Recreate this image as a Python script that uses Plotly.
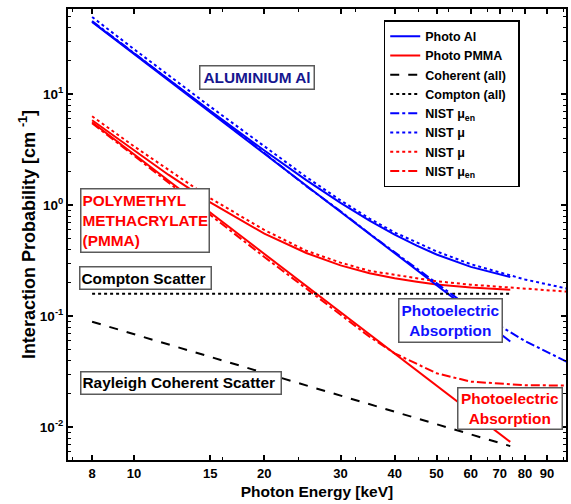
import plotly.graph_objects as go

# ---------------- data ----------------
E_model = [8, 10, 12, 15, 20, 25, 30, 35, 40, 45, 50, 60, 74]
photo_al = [44.9, 23.09, 13.41, 6.90, 2.927, 1.505, 0.874, 0.552, 0.371, 0.261, 0.1908, 0.1108, 0.0594]
photo_pmma = [5.60, 2.880, 1.673, 0.860, 0.365, 0.1878, 0.1090, 0.0688, 0.0463, 0.0326, 0.0238, 0.01382, 0.00740]
coherent_all = [0.0895, 0.0691, 0.0559, 0.0432, 0.0309, 0.0239, 0.0193, 0.01615, 0.01384, 0.01207, 0.01068, 0.00865, 0.00678]
compton_all = [0.16, 0.16, 0.16, 0.16, 0.16, 0.16, 0.16, 0.16, 0.16, 0.16, 0.16, 0.16, 0.16]
total_al = [45.15, 23.32, 13.63, 7.10, 3.118, 1.689, 1.053, 0.728, 0.545, 0.433, 0.361, 0.279, 0.226]
total_pmma = [5.85, 3.109, 1.889, 1.063, 0.556, 0.372, 0.288, 0.245, 0.220, 0.205, 0.194, 0.182, 0.174]

E_nist = [8, 10, 15, 20, 25, 30, 35, 40, 50, 60, 80, 100]
nist_mu_al = [49.8, 25.5, 7.75, 3.40, 1.80, 1.11, 0.76, 0.57, 0.385, 0.295, 0.215, 0.178]
nist_muen_al = [45.8, 23.5, 7.0, 2.96, 1.49, 0.885, 0.555, 0.378, 0.197, 0.118, 0.060, 0.039]
nist_mu_pmma = [6.35, 3.40, 1.16, 0.60, 0.39, 0.305, 0.257, 0.236, 0.207, 0.193, 0.178, 0.167]
nist_muen_pmma = [5.50, 2.80, 0.815, 0.343, 0.178, 0.103, 0.0655, 0.0465, 0.0307, 0.0258, 0.0240, 0.0238]

x_tickvals = [8, 10, 15, 20, 30, 40, 50, 60, 70, 80, 90]
x_ticktext = ["8", "10", "15", "20", "30", "40", "50", "60", "70", "80", "90"]
x_minor = [7.2, 16, 24, 32.5, 45.5, 53.3, 65.5, 75, 98]
y_tickvals = [0.01, 0.1, 1, 10]
y_ticktext = ["10<sup>-2</sup>", "10<sup>-1</sup>", "10<sup>0</sup>", "10<sup>1</sup>"]
y_minor = [0.006, 0.007, 0.008, 0.009,
           0.02, 0.03, 0.04, 0.05, 0.06, 0.07, 0.08, 0.09,
           0.2, 0.3, 0.4, 0.5, 0.6, 0.7, 0.8, 0.9,
           2, 3, 4, 5, 6, 7, 8, 9, 20, 30, 40, 50]

BLUE = "#0000ff"
RED = "#ff0000"
FONT = "Liberation Sans, Arial, sans-serif"
LW = 2

fig = go.Figure()

# curves without legend entries (totals)
fig.add_trace(go.Scatter(x=E_model, y=total_al, mode="lines", showlegend=False,
                         line=dict(color=BLUE, width=LW)))
fig.add_trace(go.Scatter(x=E_model, y=total_pmma, mode="lines", showlegend=False,
                         line=dict(color=RED, width=LW)))

fig.add_trace(go.Scatter(x=E_model, y=photo_al, mode="lines", name="Photo Al",
                         line=dict(color=BLUE, width=LW)))
fig.add_trace(go.Scatter(x=E_model, y=photo_pmma, mode="lines", name="Photo PMMA",
                         line=dict(color=RED, width=LW)))
fig.add_trace(go.Scatter(x=E_model, y=coherent_all, mode="lines", name="Coherent (all)",
                         line=dict(color="black", width=LW, dash="dash")))
fig.add_trace(go.Scatter(x=E_model, y=compton_all, mode="lines", name="Compton (all)\u00a0\u00a0",
                         line=dict(color="black", width=LW, dash="dot")))
fig.add_trace(go.Scatter(x=E_nist, y=nist_muen_al, mode="lines", name="NIST \u03bc<sub>en</sub>",
                         line=dict(color=BLUE, width=LW, dash="dashdot")))
fig.add_trace(go.Scatter(x=E_nist, y=nist_mu_al, mode="lines", name="NIST \u03bc",
                         line=dict(color=BLUE, width=LW, dash="dot")))
fig.add_trace(go.Scatter(x=E_nist, y=nist_mu_pmma, mode="lines", name="NIST \u03bc",
                         line=dict(color=RED, width=LW, dash="dot")))
fig.add_trace(go.Scatter(x=E_nist, y=nist_muen_pmma, mode="lines", name="NIST \u03bc<sub>en</sub>",
                         line=dict(color=RED, width=LW, dash="dashdot")))

# plot area in pixels
L, R, T, B = 68, 568, 9, 460
W, H = 571, 504


def px(x):
    return (x - L) / (R - L)


def py(y):
    return (B - y) / (B - T)


def box(text, cx, cy, w, h, color, align="center"):
    fig.add_annotation(text=text, xref="paper", yref="paper", x=px(cx), y=py(cy),
                       xanchor="center", yanchor="middle", showarrow=False,
                       width=w, height=h, align=align, valign="middle",
                       bgcolor="white", bordercolor="#5a5a5a", borderwidth=1.5, borderpad=1,
                       font=dict(family=FONT, size=15.4, color=color, weight="bold"))


box("ALUMINIUM Al", 258, 77.3, 111, 20, "#16168f")
box("POLYMETHYL<br>METHACRYLATE<br>(PMMA)", 145.7, 220.3, 125, 60, RED, "left")
box("Compton Scatter", 146.3, 278, 128, 19, "black", "left")
box("Rayleigh Coherent Scatter", 181, 383.3, 197, 18.5, "black", "left")
box("Photoelectric<br>Absorption", 452.5, 320.7, 100, 40, "#1010ff")
box("Photoelectric<br>Absorption", 512, 408.3, 101, 38, RED)

axis_common = dict(type="log", showgrid=False, zeroline=False, showline=True,
                   linewidth=2, linecolor="black", mirror="allticks",
                   ticks="inside", ticklen=5, tickwidth=1.5, tickcolor="black")

fig.update_xaxes(**axis_common, range=[0.8474, 1.998],
                 tickvals=x_tickvals, ticktext=x_ticktext,
                 tickfont=dict(family=FONT, size=13, color="black", weight="bold"),
                 minor=dict(tickvals=x_minor, ticks="inside", ticklen=3, tickcolor="black", tickwidth=1),
                 title=dict(text="Photon Energy [keV]", standoff=7,
                            font=dict(family=FONT, size=15.5, color="black", weight="bold")))
fig.update_yaxes(**axis_common, range=[-2.294, 1.769],
                 tickvals=y_tickvals, ticktext=y_ticktext,
                 tickfont=dict(family=FONT, size=13.5, color="black", weight="bold"),
                 minor=dict(tickvals=y_minor, ticks="inside", ticklen=3, tickcolor="black", tickwidth=1),
                 title=dict(text="\u00a0\u00a0\u00a0\u00a0Interaction Probability [cm <sup>-1</sup>]", standoff=0,
                            font=dict(family=FONT, size=18, color="black", weight="bold")))

fig.update_layout(
    width=W, height=H,
    margin=dict(l=L, r=W - R, t=T, b=H - B, pad=0),
    paper_bgcolor="white", plot_bgcolor="white",
    font=dict(family=FONT, size=13, color="black", weight="bold"),
    legend=dict(x=px(385), y=py(20), xanchor="left", yanchor="top",
                bgcolor="white", bordercolor="black", borderwidth=1.5,
                font=dict(family=FONT, size=12.5, color="black", weight="bold"),
                itemwidth=30, tracegroupgap=0),
)

fig.write_html("out.html")
